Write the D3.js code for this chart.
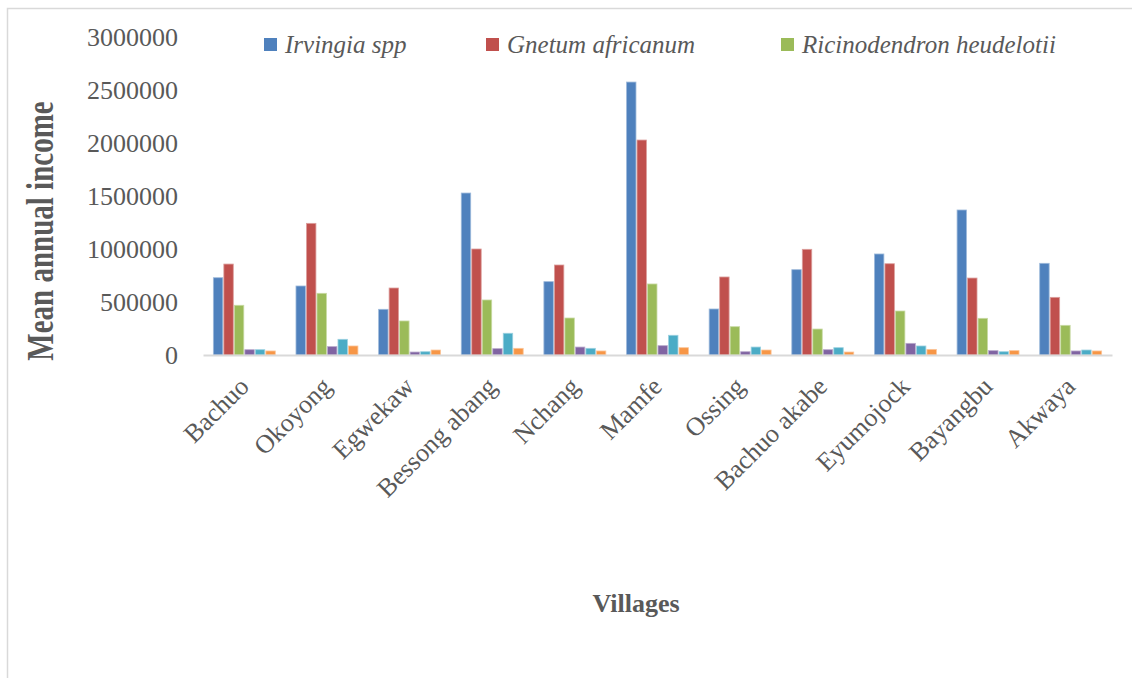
<!DOCTYPE html>
<html lang="en">
<head>
    <meta charset="UTF-8">
    <title>Mean annual income by village</title>
    <style>
        body { margin: 0; background: #fff; }
        text { font-family: "Liberation Serif", "Times New Roman", serif; fill: #595959; }
        .tick-label { font-size: 26px; }
        .x-label { font-size: 26px; }
        .legend-label { font-size: 25px; font-style: italic; }
        .axis-title { font-size: 26px; font-weight: bold; }
    </style>
</head>
<body>
    <svg id="chart" width="1132" height="678"></svg>

<script src="https://cdn.jsdelivr.net/npm/d3@7"></script>
<script>

    // villages along the x axis
    let villages = ["Bachuo", "Okoyong", "Egwekaw", "Bessong abang", "Nchang", "Mamfe",
        "Ossing", "Bachuo akabe", "Eyumojock", "Bayangbu", "Akwaya"]

    // mean annual income per product
    let irvingia = [729000, 651000, 431000, 1528000, 692000, 2575000, 434000, 805000, 953000, 1368000, 865000]
    let gnetum = [858000, 1242000, 632000, 1000000, 849000, 2028000, 736000, 997000, 861000, 726000, 544000]
    let ricinodendron = [469000, 582000, 321000, 519000, 349000, 670000, 267000, 245000, 415000, 346000, 280000]
    let series4 = [50000, 79000, 28000, 60000, 75000, 88000, 31000, 50000, 110000, 41000, 38000]
    let series5 = [50000, 148000, 31000, 205000, 63000, 186000, 75000, 69000, 85000, 31000, 47000]
    let series6 = [38000, 85000, 47000, 63000, 38000, 69000, 47000, 28000, 53000, 41000, 38000]

    let seriesNames = ["Irvingia spp", "Gnetum africanum", "Ricinodendron heudelotii", "Series 4", "Series 5", "Series 6"]
    let legendNames = ["Irvingia spp", "Gnetum africanum", "Ricinodendron heudelotii"]
    let yTicks = [0, 500000, 1000000, 1500000, 2000000, 2500000, 3000000]

    let colors = ["#4F81BD", "#C0504D", "#9BBB59", "#8064A2", "#4BACC6", "#F79646"]
    let allSeries = [irvingia, gnetum, ricinodendron, series4, series5, series6]

    let rows = villages.map((v, i) => ({
        village: v,
        values: seriesNames.map((s, j) => ({ series: s, value: allSeries[j][i] }))
    }))

    let svg = d3.select("#chart")

    // chart area frame (cut off on the right and bottom like the source)
    svg.append("rect")
        .attr("x", 7.5).attr("y", 8.5)
        .attr("width", 1200).attr("height", 700)
        .attr("fill", "none")
        .attr("stroke", "#d9d9d9")
        .attr("stroke-width", 1.5)

    let plotLeft = 203, plotRight = 1112, plotTop = 37, plotBottom = 355

    let yScale = d3.scaleLinear()
        .domain([0, 3000000])
        .range([plotBottom, plotTop])

    let x0 = d3.scaleBand()
        .domain(villages)
        .range([plotLeft, plotRight])
        .paddingInner(0.225)
        .paddingOuter(0.1125)

    let x1 = d3.scaleBand()
        .domain(seriesNames)
        .range([0, x0.bandwidth()])
        .padding(0.1)

    let color = d3.scaleOrdinal()
        .domain(seriesNames)
        .range(colors)

    // y axis: labels only
    let yAxis = d3.axisLeft(yScale)
        .tickValues(yTicks)
        .tickFormat(d3.format("d"))
        .tickSize(0)
        .tickPadding(0)

    let yG = svg.append("g")
        .attr("transform", "translate(178,0)")
        .call(yAxis)
    yG.select(".domain").remove()
    yG.selectAll("text")
        .attr("class", "tick-label")
        .attr("font-family", null)
        .attr("font-size", null)
        .attr("fill", null)
        .attr("dy", "0.34em")

    // bars
    let groups = svg.append("g")
        .selectAll("g")
        .data(rows)
        .join("g")
        .attr("transform", d => "translate(" + x0(d.village) + ",0)")

    groups.selectAll("rect")
        .data(d => d.values)
        .join("rect")
        .attr("x", d => x1(d.series))
        .attr("y", d => yScale(d.value))
        .attr("width", x1.bandwidth())
        .attr("height", d => plotBottom - yScale(d.value))
        .attr("fill", d => color(d.series))
        .attr("stroke", d => d3.interpolateRgb(color(d.series), "#fff")(0.45))
        .attr("stroke-width", 0.8)

    // x axis
    let xAxis = d3.axisBottom(x0)
        .tickSize(0)
        .tickPadding(0)

    let xG = svg.append("g")
        .attr("transform", "translate(0," + plotBottom + ")")
        .call(xAxis)
    xG.select(".domain")
        .attr("stroke", "#d9d9d9")
        .attr("stroke-width", 2)
    xG.selectAll("text")
        .attr("class", "x-label")
        .attr("font-family", null)
        .attr("font-size", null)
        .attr("fill", null)
        .attr("text-anchor", "end")
        .attr("dy", null)
        .attr("y", 0)
        .attr("transform", "translate(6,33) rotate(-45)")

    // legend
    let legendX = [264, 486, 781]
    let legend = svg.append("g")
        .selectAll("g")
        .data(legendNames)
        .join("g")
        .attr("transform", (d, i) => "translate(" + legendX[i] + ",38)")

    legend.append("rect")
        .attr("width", 13).attr("height", 13)
        .attr("fill", d => color(d))

    legend.append("text")
        .attr("class", "legend-label")
        .attr("x", 21)
        .attr("y", 15)
        .text(d => d)

    // axis titles
    svg.append("text")
        .attr("class", "axis-title")
        .attr("text-anchor", "middle")
        .attr("transform", "translate(53,231) rotate(-90) scale(1,1.3)")
        .style("font-size", "29px")
        .text("Mean annual income")

    svg.append("text")
        .attr("class", "axis-title")
        .attr("text-anchor", "middle")
        .attr("x", 636)
        .attr("y", 612)
        .text("Villages")

</script>
</body>
</html>
